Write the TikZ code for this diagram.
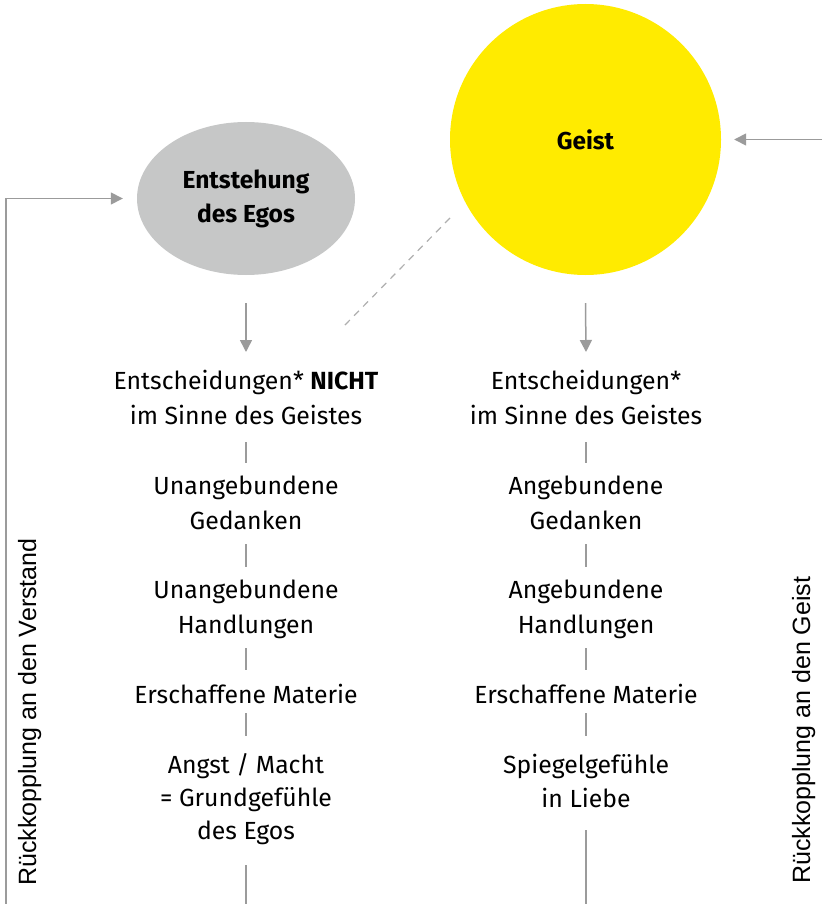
\documentclass[tikz,border=0pt]{standalone}
\usepackage{fontspec}
\setmainfont{Fira Sans}
\newfontfamily\rotfont{Liberation Sans}
\usetikzlibrary{arrows.meta,shapes.geometric}
\definecolor{egogrey}{HTML}{C6C7C7}
\definecolor{geistyellow}{HTML}{FFEB00}
\definecolor{linegrey}{HTML}{9B9B9B}
\tikzset{
  txt/.style={anchor=base, inner sep=0pt, font=\fontsize{24.8}{34}\selectfont, text=black},
  arr/.style={draw=linegrey, line width=1.5pt, -{Triangle[length=12pt,width=12pt]}},
  bar/.style={draw=linegrey, line width=1.5pt},
  dashline/.style={draw=linegrey!80, line width=1.2pt, dash pattern=on 7pt off 6pt},
  rot/.style={rotate=90, anchor=base west, inner sep=0pt, font=\rotfont\fontsize{25}{30}\selectfont}
}
\begin{document}
\begin{tikzpicture}[x=1pt,y=-1pt]
\useasboundingbox (0,0) rectangle (822,904);
% main shapes
\node[ellipse, fill=egogrey, minimum width=218pt, minimum height=153pt, inner sep=0pt,
      align=center, font=\fontsize{24.6}{34}\selectfont\bfseries] (ego) at (246,198.5) {Entstehung\\des Egos};
\node[circle, fill=geistyellow, minimum size=271pt, inner sep=0pt,
      font=\fontsize{24.4}{34}\selectfont\bfseries] (geist) at (585.5,139.5) {Geist};
% left column
\node[txt] (l1a) at (246,389) {Entscheidungen* \textbf{NICHT}};
\node[txt] (l1b) at (246,424) {im Sinne des Geistes};
\node[txt] (l2a) at (246,494) {Unangebundene};
\node[txt] (l2b) at (246,529) {Gedanken};
\node[txt] (l3a) at (246,598) {Unangebundene};
\node[txt] (l3b) at (246,633) {Handlungen};
\node[txt] (l4)  at (246,703) {Erschaffene Materie};
\node[txt] (l5a) at (246,773) {Angst / Macht};
\node[txt] (l5b) at (246,806) {= Grundgefühle};
\node[txt] (l5c) at (246,839) {des Egos};
% right column
\node[txt] (r1a) at (586,389) {Entscheidungen*};
\node[txt] (r1b) at (586,424) {im Sinne des Geistes};
\node[txt] (r2a) at (586,494) {Angebundene};
\node[txt] (r2b) at (586,529) {Gedanken};
\node[txt] (r3a) at (586,598) {Angebundene};
\node[txt] (r3b) at (586,633) {Handlungen};
\node[txt] (r4)  at (586,703) {Erschaffene Materie};
\node[txt] (r5a) at (586,773) {Spiegelgefühle};
\node[txt] (r5b) at (586,807) {in Liebe};
% rotated labels
\node[rot] (fbv) at (36,886) {Rückkopplung an den Verstand};
\node[rot] (fbg) at (810,884) {Rückkopplung an den Geist};
% coordinates for free ends
\coordinate (inR) at (822,139.5);
\coordinate (fbL) at (6,904);
\coordinate (endL) at (246,904);
\coordinate (endR) at (586,904);
\coordinate (d1) at (450,218);
\coordinate (d2) at (343,327);
% arrows
\draw[arr, shorten >=13pt] (inR) -- (geist.east);
\draw[arr, shorten >=14pt] (fbL) |- (ego.west);
\draw[arr] ([yshift=-28pt]ego.south) -- ([yshift=37pt]l1a.base);
\draw[arr] ([yshift=-28pt]geist.south) -- ([yshift=37pt]r1a.base);
\draw[dashline] (d1) -- (d2);
% left bars
\draw[bar] ([yshift=-18pt]l1b.base) -- ([yshift=31pt]l2a.base);
\draw[bar] ([yshift=-15pt]l2b.base) -- ([yshift=31pt]l3a.base);
\draw[bar] ([yshift=-15pt]l3b.base) -- ([yshift=33pt]l4.base);
\draw[bar] ([yshift=-10pt]l4.base) -- ([yshift=37pt]l5a.base);
\draw[bar] ([yshift=-26pt]l5c.base) -- (endL);
% right bars
\draw[bar] ([yshift=-18pt]r1b.base) -- ([yshift=31pt]r2a.base);
\draw[bar] ([yshift=-15pt]r2b.base) -- ([yshift=31pt]r3a.base);
\draw[bar] ([yshift=-15pt]r3b.base) -- ([yshift=33pt]r4.base);
\draw[bar] ([yshift=-10pt]r4.base) -- ([yshift=37pt]r5a.base);
\draw[bar] ([yshift=-23pt]r5b.base) -- (endR);
\end{tikzpicture}
\end{document}
